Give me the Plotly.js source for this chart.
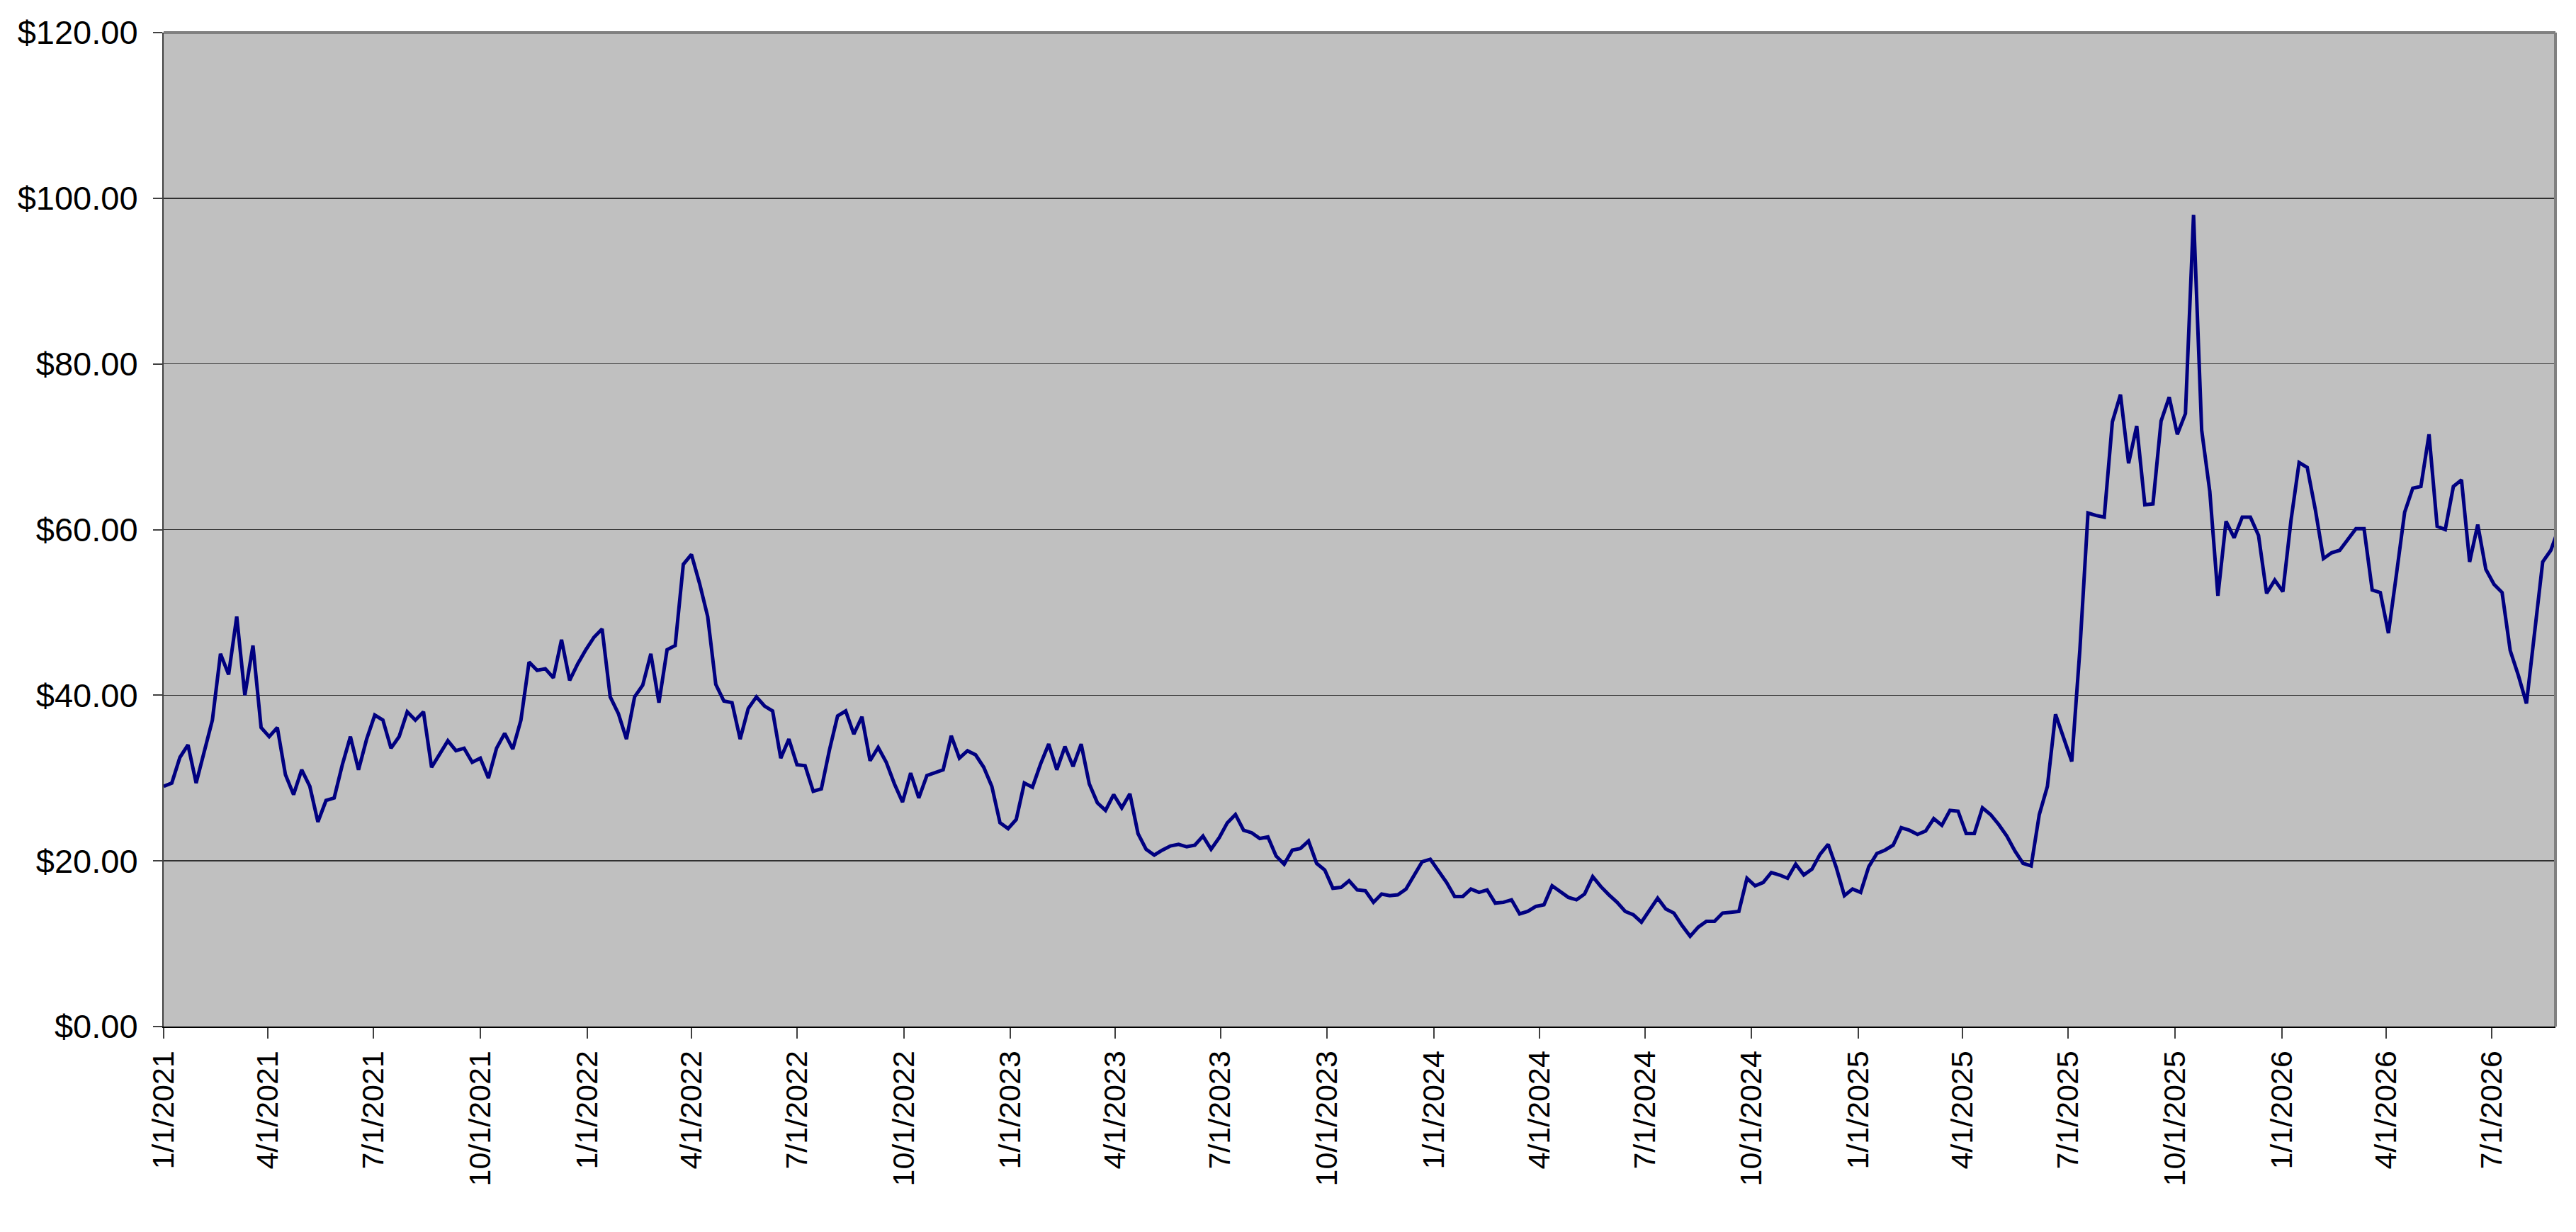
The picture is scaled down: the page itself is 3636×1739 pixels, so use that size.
<!DOCTYPE html>
<html>
<head>
<meta charset="utf-8">
<script src="https://cdn.plot.ly/plotly-3.0.1.min.js"></script>
<style>
  html, body { margin: 0; padding: 0; background: #ffffff; }
  #chart { width: 3636px; height: 1739px; }
</style>
</head>
<body>
<div id="chart"></div>
<script>
// weekly closing prices, first week starts 1/1/2021
var firstWeek = '2021-01-01';
var prices = [
    29.0, 29.4, 32.5, 34.0, 29.4, 33.3, 37.0, 45.0, 42.5, 49.5,
    40.0, 46.0, 36.1, 35.0, 36.1, 30.4, 28.0, 31.0, 29.0, 24.7,
    27.3, 27.6, 31.6, 35.0, 31.0, 34.7, 37.6, 37.0, 33.6, 35.0,
    38.0, 37.0, 38.0, 31.3, 33.0, 34.5, 33.3, 33.6, 31.9, 32.4,
    30.0, 33.6, 35.4, 33.5, 37.0, 44.0, 43.0, 43.2, 42.1, 46.7,
    41.8, 43.8, 45.5, 47.0, 48.0, 39.8, 37.8, 34.7, 39.8, 41.2,
    45.0, 39.1, 45.5, 46.0, 55.8, 57.0, 53.5, 49.5, 41.3, 39.3,
    39.1, 34.7, 38.4, 39.8, 38.7, 38.1, 32.4, 34.7, 31.6, 31.5,
    28.4, 28.7, 33.4, 37.5, 38.1, 35.3, 37.4, 32.1, 33.7, 31.9,
    29.3, 27.1, 30.6, 27.6, 30.3, 30.7, 31.0, 35.1, 32.4, 33.3,
    32.8, 31.3, 29.0, 24.6, 23.9, 25.0, 29.4, 28.9, 31.7, 34.1,
    31.0, 33.8, 31.4, 34.1, 29.3, 27.0, 26.1, 28.0, 26.4, 28.1,
    23.3, 21.4, 20.7, 21.3, 21.8, 22.0, 21.7, 21.9, 23.0, 21.4,
    22.8, 24.6, 25.6, 23.7, 23.4, 22.7, 22.9, 20.6, 19.6, 21.3,
    21.5, 22.4, 19.7, 18.9, 16.7, 16.8, 17.6, 16.5, 16.4, 15.0,
    16.0, 15.8, 15.9, 16.6, 18.2, 19.9, 20.2, 18.8, 17.4, 15.7,
    15.7, 16.6, 16.2, 16.5, 14.9, 15.0, 15.3, 13.6, 13.9, 14.5,
    14.7, 17.0, 16.3, 15.6, 15.3, 16.0, 18.1, 16.9, 15.9, 15.0,
    13.9, 13.5, 12.6, 14.0, 15.5, 14.2, 13.7, 12.2, 10.9, 12.0,
    12.7, 12.7, 13.7, 13.8, 13.9, 17.9, 17.0, 17.4, 18.6, 18.3,
    17.9, 19.6, 18.3, 19.0, 20.8, 22.0, 19.2, 15.8, 16.6, 16.2,
    19.3, 20.9, 21.3, 21.9, 24.0, 23.7, 23.2, 23.6, 25.1, 24.3,
    26.1, 26.0, 23.3, 23.3, 26.4, 25.6, 24.4, 23.0, 21.2, 19.7,
    19.4, 25.6, 29.0, 37.7, 35.0, 32.0, 45.5, 62.0, 61.7, 61.5,
    73.0, 76.3, 68.0, 72.5, 63.0, 63.1, 73.1, 76.0, 71.5, 74.0,
    98.0, 72.0, 64.6, 52.0, 61.0, 59.0, 61.5, 61.5, 59.3, 52.3,
    53.9, 52.5, 61.1, 68.1, 67.5, 62.4, 56.5, 57.2, 57.5, 58.8,
    60.1, 60.1, 52.7, 52.4, 47.5, 54.7, 62.1, 65.0, 65.2, 71.5,
    60.4, 60.0, 65.2, 66.0, 56.1, 60.6, 55.2, 53.4, 52.4, 45.4,
    42.4, 39.0, 47.5, 56.1, 57.5, 60.2
];
var tickLabels = [
    '1/1/2021', '4/1/2021', '7/1/2021', '10/1/2021',
    '1/1/2022', '4/1/2022', '7/1/2022', '10/1/2022',
    '1/1/2023', '4/1/2023', '7/1/2023', '10/1/2023',
    '1/1/2024', '4/1/2024', '7/1/2024', '10/1/2024',
    '1/1/2025', '4/1/2025', '7/1/2025', '10/1/2025',
    '1/1/2026', '4/1/2026', '7/1/2026'
];
var axisEnd = '2026-08-25';

function toIso( label ) {
    var p = label.split( '/' );
    return p[ 2 ] + '-' + ( '0' + p[ 0 ] ).slice( -2 ) + '-' + ( '0' + p[ 1 ] ).slice( -2 );
}

var start = Date.parse( firstWeek + 'T00:00:00Z' );
var dates = prices.map( function ( v, i ) {
    return new Date( start + i * 7 * 86400000 ).toISOString().slice( 0, 10 );
});

var trace = {
    x: dates,
    y: prices,
    type: 'scatter',
    mode: 'lines',
    line: { color: '#000080', width: 5 },
    hoverinfo: 'x+y'
};

var font = { family: '"Liberation Sans", Arial, sans-serif', size: 43, color: '#000000' };
var yFont = { family: '"Liberation Sans", Arial, sans-serif', size: 47, color: '#000000' };

var layout = {
    width: 3636,
    height: 1739,
    margin: { l: 231, r: 29, t: 46, b: 290 },
    paper_bgcolor: '#ffffff',
    plot_bgcolor: '#c0c0c0',
    showlegend: false,
    font: font,
    xaxis: {
        type: 'date',
        range: [ firstWeek, axisEnd ],
        tickvals: tickLabels.map( toIso ),
        ticktext: tickLabels,
        tickangle: -90,
        ticks: 'outside',
        ticklen: 15,
        tickwidth: 2,
        tickcolor: '#404040',
        showgrid: false,
        zeroline: false,
        showline: true,
        linecolor: '#000000',
        linewidth: 2,
        tickfont: font
    },
    yaxis: {
        range: [ 0, 120 ],
        tickmode: 'linear',
        tick0: 0,
        dtick: 20,
        tickprefix: '$',
        tickformat: '.2f',
        ticks: 'outside',
        ticklen: 13,
        tickwidth: 2,
        tickcolor: '#404040',
        ticklabelstandoff: 12,
        showgrid: true,
        gridcolor: '#303030',
        gridwidth: 1.5,
        zeroline: false,
        showline: true,
        linecolor: '#404040',
        linewidth: 2,
        tickfont: yFont
    },
    shapes: [
        { type: 'line', xref: 'paper', yref: 'paper', x0: 0, x1: 1, y0: 1, y1: 1, line: { color: '#808080', width: 4 } },
        { type: 'line', xref: 'paper', yref: 'paper', x0: 1, x1: 1, y0: 0, y1: 1, line: { color: '#808080', width: 4 } }
    ]
};

Plotly.newPlot( 'chart', [ trace ], layout, { staticPlot: true, displayModeBar: false } );
</script>
</body>
</html>
